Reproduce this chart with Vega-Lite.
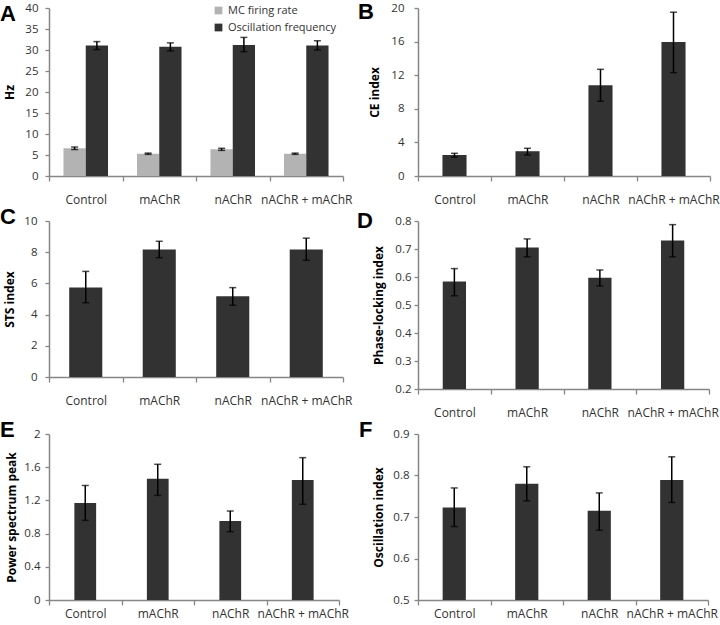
{
  "$schema": "https://vega.github.io/schema/vega-lite/v6.json",
  "padding": {"left": 0, "top": 1, "right": 0, "bottom": 0},
  "background": "white",
  "config": {
    "view": {"stroke": null},
    "font": "Open Sans",
    "axis": {"domainColor": "#868686", "tickColor": "#868686", "labelColor": "#333333", "labelFont": "Open Sans", "titleFont": "Open Sans", "grid": false, "domainWidth": 1.5, "tickWidth": 1.3, "labelOverlap": false},
    "axisX": {"title": null, "tickBand": "extent", "labelPadding": 13, "tickSize": 5, "labelAngle": 0, "labelFontSize": 12, "labelOverlap": false, "labelLimit": 0},
    "axisY": {"tickSize": 4, "labelPadding": 5, "labelFontSize": 11.5, "titleFontSize": 12, "titleFontWeight": "bold", "titleColor": "#000000", "labelOverlap": false},
    "title": {"anchor": "start", "frame": "group", "fontSize": 22, "font": "Liberation Sans", "fontWeight": "bold", "baseline": "alphabetic", "offset": 0, "color": "#000000"},
    "legend": {"labelFont": "Open Sans", "labelFontSize": 11, "labelColor": "#333333"}
  },
  "datasets": {
    "d": [
      {"panel": "A", "cond": "Control", "series": "MC firing rate", "value": 6.6, "lo": 6.3, "hi": 6.9},
      {"panel": "A", "cond": "mAChR", "series": "MC firing rate", "value": 5.3, "lo": 5.15, "hi": 5.45},
      {"panel": "A", "cond": "nAChR", "series": "MC firing rate", "value": 6.35, "lo": 6.1, "hi": 6.6},
      {"panel": "A", "cond": "nAChR + mAChR", "series": "MC firing rate", "value": 5.3, "lo": 5.15, "hi": 5.45},
      {"panel": "A", "cond": "Control", "series": "Oscillation frequency", "value": 31.1, "lo": 30.1, "hi": 32.0},
      {"panel": "A", "cond": "mAChR", "series": "Oscillation frequency", "value": 30.8, "lo": 29.8, "hi": 31.7},
      {"panel": "A", "cond": "nAChR", "series": "Oscillation frequency", "value": 31.2, "lo": 29.6, "hi": 33.0},
      {"panel": "A", "cond": "nAChR + mAChR", "series": "Oscillation frequency", "value": 31.1, "lo": 30.0, "hi": 32.2},
      {"panel": "B", "cond": "Control", "value": 2.5, "lo": 2.25, "hi": 2.7},
      {"panel": "B", "cond": "mAChR", "value": 2.95, "lo": 2.5, "hi": 3.3},
      {"panel": "B", "cond": "nAChR", "value": 10.8, "lo": 8.9, "hi": 12.7},
      {"panel": "B", "cond": "nAChR + mAChR", "value": 15.95, "lo": 12.3, "hi": 19.5},
      {"panel": "C", "cond": "Control", "value": 5.73, "lo": 4.76, "hi": 6.77},
      {"panel": "C", "cond": "mAChR", "value": 8.18, "lo": 7.65, "hi": 8.7},
      {"panel": "C", "cond": "nAChR", "value": 5.17, "lo": 4.6, "hi": 5.73},
      {"panel": "C", "cond": "nAChR + mAChR", "value": 8.18, "lo": 7.48, "hi": 8.9},
      {"panel": "D", "cond": "Control", "value": 0.584, "lo": 0.533, "hi": 0.63},
      {"panel": "D", "cond": "mAChR", "value": 0.705, "lo": 0.672, "hi": 0.736},
      {"panel": "D", "cond": "nAChR", "value": 0.597, "lo": 0.568, "hi": 0.625},
      {"panel": "D", "cond": "nAChR + mAChR", "value": 0.73, "lo": 0.672, "hi": 0.787},
      {"panel": "E", "cond": "Control", "value": 1.17, "lo": 0.96, "hi": 1.38},
      {"panel": "E", "cond": "mAChR", "value": 1.46, "lo": 1.26, "hi": 1.635},
      {"panel": "E", "cond": "nAChR", "value": 0.952, "lo": 0.823, "hi": 1.072},
      {"panel": "E", "cond": "nAChR + mAChR", "value": 1.446, "lo": 1.153, "hi": 1.715},
      {"panel": "F", "cond": "Control", "value": 0.723, "lo": 0.677, "hi": 0.77},
      {"panel": "F", "cond": "mAChR", "value": 0.78, "lo": 0.739, "hi": 0.821},
      {"panel": "F", "cond": "nAChR", "value": 0.715, "lo": 0.668, "hi": 0.758},
      {"panel": "F", "cond": "nAChR + mAChR", "value": 0.789, "lo": 0.735, "hi": 0.845}
    ]
  },
  "columns": 2,
  "spacing": {"row": 45, "column": 75},
  "bounds": "flush",
  "align": "each",
  "concat": [
    {
      "width": 294, "height": 168,
      "title": {"text": "A", "dx": -49, "dy": 28},
      "data": {"name": "d"},
      "transform": [{"filter": "datum.panel === 'A'"}],
      "encoding": {
        "x": {"field": "cond", "type": "nominal", "sort": ["Control", "mAChR", "nAChR", "nAChR + mAChR"], "scale": {"paddingInner": 0, "paddingOuter": 0}},
        "xOffset": {"field": "series", "type": "nominal", "sort": ["MC firing rate", "Oscillation frequency"], "scale": {"paddingInner": 0, "paddingOuter": 0.65}}
      },
      "layer": [
        {
          "mark": {"type": "bar"},
          "encoding": {
            "y": {"field": "value", "type": "quantitative", "scale": {"domain": [0, 40]}, "axis": {"title": "Hz", "values": [0, 5, 10, 15, 20, 25, 30, 35, 40], "tickCount": 50, "format": "d", "labelPadding": 7, "titlePadding": 8}},
            "color": {"field": "series", "type": "nominal", "sort": ["MC firing rate", "Oscillation frequency"], "scale": {"range": ["#b3b3b3", "#323232"]}, "legend": {"title": null, "orient": "none", "legendX": 164, "legendY": -3, "symbolType": "square", "symbolSize": 60, "symbolStrokeWidth": 0, "rowPadding": 5, "labelOffset": 4}}
          }
        },
        {"mark": {"type": "rule", "color": "#000000", "strokeWidth": 1.5}, "encoding": {"y": {"field": "lo", "type": "quantitative", "title": "Hz"}, "y2": {"field": "hi"}}},
        {"mark": {"type": "tick", "color": "#000000", "size": 7, "thickness": 1.5}, "encoding": {"y": {"field": "lo", "type": "quantitative", "title": "Hz"}}},
        {"mark": {"type": "tick", "color": "#000000", "size": 7, "thickness": 1.5}, "encoding": {"y": {"field": "hi", "type": "quantitative", "title": "Hz"}}}
      ]
    },
    {
      "width": 292, "height": 168,
      "title": {"text": "B", "dx": -60, "dy": 26},
      "data": {"name": "d"},
      "transform": [{"filter": "datum.panel === 'B'"}],
      "encoding": {
        "x": {"field": "cond", "type": "nominal", "sort": ["Control", "mAChR", "nAChR", "nAChR + mAChR"], "scale": {"paddingInner": 0, "paddingOuter": 0}}
      },
      "layer": [
        {"mark": {"type": "bar", "width": {"band": 0.33}, "color": "#323232"}, "encoding": {"y": {"field": "value", "type": "quantitative", "scale": {"domain": [0, 20]}, "axis": {"title": "CE index", "values": [0, 4, 8, 12, 16, 20], "tickCount": 50, "format": "d", "labelPadding": 10, "titlePadding": 9}}}},
        {"mark": {"type": "rule", "color": "#000000", "strokeWidth": 1.5}, "encoding": {"y": {"field": "lo", "type": "quantitative", "title": "CE index"}, "y2": {"field": "hi"}}},
        {"mark": {"type": "tick", "color": "#000000", "size": 7, "thickness": 1.5}, "encoding": {"y": {"field": "lo", "type": "quantitative", "title": "CE index"}}},
        {"mark": {"type": "tick", "color": "#000000", "size": 7, "thickness": 1.5}, "encoding": {"y": {"field": "hi", "type": "quantitative", "title": "CE index"}}}
      ]
    },
    {
      "width": 294, "height": 156,
      "title": {"text": "C", "dx": -49, "dy": 18},
      "data": {"name": "d"},
      "transform": [{"filter": "datum.panel === 'C'"}],
      "encoding": {
        "x": {"field": "cond", "type": "nominal", "sort": ["Control", "mAChR", "nAChR", "nAChR + mAChR"], "scale": {"paddingInner": 0, "paddingOuter": 0}}
      },
      "layer": [
        {"mark": {"type": "bar", "width": {"band": 0.45}, "color": "#323232"}, "encoding": {"y": {"field": "value", "type": "quantitative", "scale": {"domain": [0, 10]}, "axis": {"title": "STS index", "values": [0, 2, 4, 6, 8, 10], "tickCount": 50, "format": "d", "labelPadding": 8, "titlePadding": 7}}}},
        {"mark": {"type": "rule", "color": "#000000", "strokeWidth": 1.5}, "encoding": {"y": {"field": "lo", "type": "quantitative", "title": "STS index"}, "y2": {"field": "hi"}}},
        {"mark": {"type": "tick", "color": "#000000", "size": 7, "thickness": 1.5}, "encoding": {"y": {"field": "lo", "type": "quantitative", "title": "STS index"}}},
        {"mark": {"type": "tick", "color": "#000000", "size": 7, "thickness": 1.5}, "encoding": {"y": {"field": "hi", "type": "quantitative", "title": "STS index"}}}
      ]
    },
    {
      "width": 291, "height": 168,
      "title": {"text": "D", "dx": -61, "dy": 22},
      "data": {"name": "d"},
      "transform": [{"filter": "datum.panel === 'D'"}],
      "encoding": {
        "x": {"field": "cond", "type": "nominal", "sort": ["Control", "mAChR", "nAChR", "nAChR + mAChR"], "scale": {"paddingInner": 0, "paddingOuter": 0}}
      },
      "layer": [
        {"mark": {"type": "bar", "width": {"band": 0.32}, "color": "#323232", "clip": true}, "encoding": {"y": {"field": "value", "type": "quantitative", "scale": {"domain": [0.2, 0.8], "zero": false}, "axis": {"title": "Phase-locking index", "values": [0.2, 0.3, 0.4, 0.5, 0.6, 0.7, 0.8], "tickCount": 50, "format": ".1f", "labelPadding": 3, "titlePadding": 9}}}},
        {"mark": {"type": "rule", "color": "#000000", "strokeWidth": 1.5}, "encoding": {"y": {"field": "lo", "type": "quantitative", "title": "Phase-locking index"}, "y2": {"field": "hi"}}},
        {"mark": {"type": "tick", "color": "#000000", "size": 7, "thickness": 1.5}, "encoding": {"y": {"field": "lo", "type": "quantitative", "title": "Phase-locking index"}}},
        {"mark": {"type": "tick", "color": "#000000", "size": 7, "thickness": 1.5}, "encoding": {"y": {"field": "hi", "type": "quantitative", "title": "Phase-locking index"}}}
      ]
    },
    {
      "width": 290, "height": 166,
      "title": {"text": "E", "dx": -49, "dy": 18},
      "data": {"name": "d"},
      "transform": [{"filter": "datum.panel === 'E'"}],
      "encoding": {
        "x": {"field": "cond", "type": "nominal", "sort": ["Control", "mAChR", "nAChR", "nAChR + mAChR"], "scale": {"paddingInner": 0, "paddingOuter": 0}, "axis": {"labelPadding": 3}}
      },
      "layer": [
        {"mark": {"type": "bar", "width": {"band": 0.3}, "color": "#323232"}, "encoding": {"y": {"field": "value", "type": "quantitative", "scale": {"domain": [0, 2]}, "axis": {"title": "Power spectrum peak", "values": [0, 0.4, 0.8, 1.2, 1.6, 2], "tickCount": 50, "format": ".1~f", "labelPadding": 5, "titlePadding": 5}}}},
        {"mark": {"type": "rule", "color": "#000000", "strokeWidth": 1.5}, "encoding": {"y": {"field": "lo", "type": "quantitative", "title": "Power spectrum peak"}, "y2": {"field": "hi"}}},
        {"mark": {"type": "tick", "color": "#000000", "size": 7, "thickness": 1.5}, "encoding": {"y": {"field": "lo", "type": "quantitative", "title": "Power spectrum peak"}}},
        {"mark": {"type": "tick", "color": "#000000", "size": 7, "thickness": 1.5}, "encoding": {"y": {"field": "hi", "type": "quantitative", "title": "Power spectrum peak"}}}
      ]
    },
    {
      "width": 290, "height": 166,
      "title": {"text": "F", "dx": -59, "dy": 18},
      "data": {"name": "d"},
      "transform": [{"filter": "datum.panel === 'F'"}],
      "encoding": {
        "x": {"field": "cond", "type": "nominal", "sort": ["Control", "mAChR", "nAChR", "nAChR + mAChR"], "scale": {"paddingInner": 0, "paddingOuter": 0}, "axis": {"labelPadding": 3}}
      },
      "layer": [
        {"mark": {"type": "bar", "width": {"band": 0.32}, "color": "#323232", "clip": true}, "encoding": {"y": {"field": "value", "type": "quantitative", "scale": {"domain": [0.5, 0.9], "zero": false}, "axis": {"title": "Oscillation index", "values": [0.5, 0.6, 0.7, 0.8, 0.9], "tickCount": 50, "format": ".1f", "labelPadding": 5, "titlePadding": 7}}}},
        {"mark": {"type": "rule", "color": "#000000", "strokeWidth": 1.5}, "encoding": {"y": {"field": "lo", "type": "quantitative", "title": "Oscillation index"}, "y2": {"field": "hi"}}},
        {"mark": {"type": "tick", "color": "#000000", "size": 7, "thickness": 1.5}, "encoding": {"y": {"field": "lo", "type": "quantitative", "title": "Oscillation index"}}},
        {"mark": {"type": "tick", "color": "#000000", "size": 7, "thickness": 1.5}, "encoding": {"y": {"field": "hi", "type": "quantitative", "title": "Oscillation index"}}}
      ]
    }
  ]
}
